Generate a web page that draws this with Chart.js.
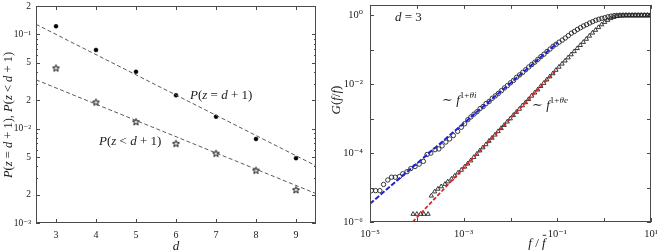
<!DOCTYPE html>
<html><head><meta charset="utf-8">
<script src="https://cdn.jsdelivr.net/npm/chart.js@4"></script>
<style>
html,body{margin:0;padding:0;background:#fff;overflow:hidden;width:657px;height:251px;}
canvas{position:absolute;top:0;}
#c1{left:0}
#c2{left:330px}
</style></head><body>
<canvas id="c1" width="330" height="251"></canvas>
<canvas id="c2" width="327" height="251"></canvas>
<script>
// ---------- Left panel data ----------
const dVals = [3, 4, 5, 6, 7, 8, 9];
const pEqual = [0.122, 0.0684, 0.0401, 0.0226, 0.0134, 0.00778, 0.00487];
const pLess  = [0.0442, 0.0192, 0.0119, 0.0070, 0.0055, 0.00364, 0.00226];
const fitD = [2.5, 9.5];
const fitEqual = [0.128, 0.00404];
const fitLess  = [0.033, 0.00205];
const leftXTicks = [3, 4, 5, 6, 7, 8, 9];
const leftYTicks = [0.001, 0.002, 0.005, 0.01, 0.02, 0.05, 0.1, 0.2];
const leftYLabels = ['10⁻³', '2', '5', '10⁻²', '2', '5', '10⁻¹', '2'];

// ---------- Right panel data (log10 of f/f̄ and G) ----------
const circLogF = [-4.97,-4.88,-4.79,-4.71,-4.62,-4.54,-4.46,-4.37,-4.30,-4.21,-4.13,-4.04,-3.95,-3.86,-3.78,-3.70,-3.61,-3.53,-3.46,-3.38,-3.30,-3.22,-3.13,-3.05,-2.98,
 -2.91,-2.845,-2.78,-2.715,-2.65,-2.585,-2.52,-2.455,-2.39,-2.325,-2.26,-2.195,-2.13,-2.065,-2.0,-1.935,-1.87,-1.805,-1.74,-1.675,-1.61,-1.545,-1.48,-1.415,-1.35,-1.285,-1.22,-1.155,-1.09,
 -1.025,-0.96,-0.895,-0.83,-0.765,-0.70,-0.635,-0.57,-0.505,-0.44,-0.375,-0.31,-0.245,-0.18,-0.115,-0.05,0.015,0.08,0.145,0.21,0.275,0.34,0.405,0.47,0.535,0.60,0.665,0.73,0.795,0.86,0.925,0.99];
const circLogG = [-5.09,-5.09,-5.09,-4.91,-4.78,-4.70,-4.70,-4.68,-4.60,-4.54,-4.45,-4.39,-4.32,-4.24,-4.04,-4.00,-3.90,-3.88,-3.79,-3.68,-3.59,-3.49,-3.37,-3.25,-3.15,
 -3.03,-2.95,-2.87,-2.80,-2.71,-2.65,-2.56,-2.50,-2.41,-2.34,-2.27,-2.19,-2.11,-2.04,-1.96,-1.89,-1.80,-1.73,-1.66,-1.58,-1.50,-1.43,-1.36,-1.28,-1.20,-1.13,-1.05,-0.98,-0.90,
 -0.84,-0.78,-0.72,-0.66,-0.59,-0.52,-0.47,-0.41,-0.36,-0.31,-0.27,-0.225,-0.185,-0.145,-0.115,-0.09,-0.07,-0.045,-0.025,-0.012,-0.004,0,0,0,0,0,0,0,0,0,0,0];
const triLogF = [-4.08,-4.00,-3.92,-3.85,-3.76,-3.69,-3.62,-3.55,-3.48,-3.40,-3.34,-3.26,-3.19,-3.12,-3.05,-2.98,
 -2.915,-2.85,-2.785,-2.72,-2.655,-2.59,-2.525,-2.46,-2.395,-2.33,-2.265,-2.20,-2.135,-2.07,-2.005,-1.94,-1.875,-1.81,-1.745,-1.68,-1.615,-1.55,-1.485,-1.42,-1.355,-1.29,-1.225,-1.16,-1.095,-1.03,
 -0.965,-0.90,-0.835,-0.77,-0.705,-0.64,-0.575,-0.51,-0.445,-0.38,-0.315,-0.25,-0.185,-0.12,-0.055,0.01,0.075,0.14,0.205,0.27,0.335,0.40,0.465,0.53,0.595,0.66,0.725,0.79,0.855,0.92,0.985];
const triLogG = [-5.77,-5.77,-5.77,-5.77,-5.77,-5.24,-5.12,-5.04,-4.97,-4.90,-4.83,-4.75,-4.66,-4.57,-4.49,-4.40,
 -4.31,-4.22,-4.12,-4.03,-3.93,-3.84,-3.75,-3.65,-3.56,-3.47,-3.37,-3.28,-3.19,-3.09,-3.00,-2.90,-2.81,-2.72,-2.62,-2.53,-2.44,-2.34,-2.25,-2.16,-2.06,-1.97,-1.87,-1.78,-1.69,-1.59,
 -1.50,-1.41,-1.32,-1.23,-1.14,-1.05,-0.96,-0.87,-0.78,-0.69,-0.60,-0.51,-0.43,-0.35,-0.27,-0.20,-0.14,-0.09,-0.055,-0.03,-0.012,-0.004,0,0,0,0,0,0,0,0,0];
const blueFitF = [1e-5, 0.1];
const blueFitG = [3.39e-6, 0.158];
const redFitF = [8.13e-5, 0.1];
const redFitG = [1e-6, 0.0275];
const rightXTicks = [1e-5, 1e-4, 1e-3, 1e-2, 1e-1, 1, 10];
const rightXLabels = {'-5':'10⁻⁵', '-3':'10⁻³', '-1':'10⁻¹', '1':'10¹'};
const rightYTicks = [1e-6, 1e-5, 1e-4, 1e-3, 1e-2, 1e-1, 1];
const rightYLabels = {'-6':'10⁻⁶', '-4':'10⁻⁴', '-2':'10⁻²', '0':'10⁰'};

// ---------- helpers ----------
const SERIF = '"Liberation Serif", "DejaVu Serif", serif';
const INK = '#1a1a1a';
const FRAME = '#4a4a4a';

function drawRich(ctx, segs, x, y, size, align) {
  const items = segs.map(([t, st]) => {
    const sup = st.includes('s');
    const it = st.includes('i');
    const sz = sup ? size * 0.7 : size;
    const font = (it ? 'italic ' : '') + sz + 'px ' + SERIF;
    ctx.font = font;
    return {t, font, w: ctx.measureText(t).width, dy: sup ? -size * 0.45 : 0, bar: st.includes('b'), sz};
  });
  const total = items.reduce((a, b) => a + b.w, 0);
  let cx = align === 'center' ? x - total / 2 : (align === 'right' ? x - total : x);
  ctx.fillStyle = INK; ctx.textBaseline = 'alphabetic'; ctx.textAlign = 'left';
  for (const it of items) {
    ctx.font = it.font;
    ctx.fillText(it.t, cx, y + it.dy);
    if (it.bar) {
      ctx.strokeStyle = INK; ctx.lineWidth = 0.9;
      ctx.beginPath();
      ctx.moveTo(cx + it.w * 0.2, y - it.sz * 0.9);
      ctx.lineTo(cx + it.w * 1.15, y - it.sz * 0.9);
      ctx.stroke();
    }
    cx += it.w;
  }
}

function makeStar(r) {
  const c = document.createElement('canvas');
  const s = Math.ceil(r * 2 + 3);
  c.width = c.height = s;
  const g = c.getContext('2d');
  g.strokeStyle = '#000'; g.lineWidth = 1; g.lineJoin = 'miter'; g.beginPath();
  for (let k = 0; k < 10; k++) {
    const ang = -Math.PI / 2 + k * Math.PI / 5;
    const rr = k % 2 ? r * 0.4 : r;
    g.lineTo(s / 2 + rr * Math.cos(ang), s / 2 + 0.5 + rr * Math.sin(ang));
  }
  g.closePath(); g.stroke();
  return c;
}

function frameAndTicks(chart, xMarks, yMajor, yMinor, majLen, minLen) {
  const {ctx, chartArea: a, scales: {x, y}} = chart;
  ctx.save();
  ctx.strokeStyle = FRAME; ctx.lineWidth = 1;
  ctx.beginPath();
  xMarks.forEach(v => {
    const px = Math.round(x.getPixelForValue(v)) + 0.5;
    ctx.moveTo(px, a.bottom); ctx.lineTo(px, a.bottom - majLen);
    ctx.moveTo(px, a.top); ctx.lineTo(px, a.top + majLen);
  });
  const yt = (v, len) => {
    const py = Math.round(y.getPixelForValue(v)) + 0.5;
    ctx.moveTo(a.left, py); ctx.lineTo(a.left + len, py);
    ctx.moveTo(a.right, py); ctx.lineTo(a.right - len, py);
  };
  yMajor.forEach(v => yt(v, majLen));
  yMinor.forEach(v => yt(v, minLen));
  ctx.stroke();
  ctx.strokeRect(Math.round(a.left) + 0.5, Math.round(a.top) + 0.5, Math.round(a.width) - 1, Math.round(a.height) - 1);
  ctx.restore();
}

const pts = (xs, ys) => xs.map((v, i) => ({x: v, y: ys[i]}));
const logPts = (xs, ys) => xs.map((v, i) => ({x: Math.pow(10, v), y: Math.pow(10, ys[i])}));

const leftMinor = [];
[1e-3, 1e-2, 1e-1].forEach(dec => [3, 4, 6, 7, 8, 9].forEach(m => { if (m * dec < 0.2) leftMinor.push(m * dec); }));

// ---------- Left chart ----------
new Chart(document.getElementById('c1'), {
  type: 'scatter',
  data: {
    datasets: [
      {data: pts(fitD, fitEqual), showLine: true, pointRadius: 0, borderColor: '#5a5a5a', borderWidth: 1, borderDash: [4, 2.5], order: 0},
      {data: pts(fitD, fitLess), showLine: true, pointRadius: 0, borderColor: '#5a5a5a', borderWidth: 1, borderDash: [4, 2.5], order: 0},
      {data: pts(dVals, pEqual), pointStyle: 'circle', pointRadius: 2, backgroundColor: '#000', borderColor: '#000', borderWidth: 0.5, order: 1},
      {data: pts(dVals, pLess), pointStyle: makeStar(3.6), pointRadius: 4, order: 1}
    ]
  },
  options: {
    responsive: false, animation: false, events: [],
    layout: {padding: {top: 6, right: 14, left: 0, bottom: 0}},
    plugins: {legend: {display: false}, tooltip: {enabled: false}},
    scales: {
      x: {
        type: 'linear', min: 2.5, max: 9.5,
        grid: {display: false, drawTicks: false}, border: {display: false},
        afterBuildTicks: s => { s.ticks = leftXTicks.map(v => ({value: v})); },
        afterFit: s => { s.height = 28; s.paddingLeft = 0; s.paddingRight = 0; },
        ticks: {autoSkip: false, maxRotation: 0, padding: 6, color: INK, font: {family: SERIF, size: 10}, callback: v => String(v)}
      },
      y: {
        type: 'logarithmic', min: 0.001, max: 0.2,
        grid: {display: false, drawTicks: false}, border: {display: false},
        afterBuildTicks: s => { s.ticks = leftYTicks.map(v => ({value: v})); },
        afterFit: s => { s.width = 36; s.paddingTop = 0; s.paddingBottom = 0; },
        ticks: {autoSkip: false, padding: 5, color: INK, font: {family: SERIF, size: 9.5}, callback: (v, i) => leftYLabels[i]}
      }
    }
  },
  plugins: [{
    id: 'leftDeco',
    afterDraw(chart) {
      frameAndTicks(chart, leftXTicks, leftYTicks, leftMinor, 4, 2);
      const ctx = chart.ctx;
      drawRich(ctx, [['P','i'],['(','r'],['z','i'],[' = ','r'],['d','i'],[' + 1)','r']], 190, 99, 13, 'left');
      drawRich(ctx, [['P','i'],['(','r'],['z','i'],[' < ','r'],['d','i'],[' + 1)','r']], 99, 145, 13, 'left');
      drawRich(ctx, [['d','i']], 176, 250, 13, 'center');
      ctx.save();
      ctx.translate(12, 115); ctx.rotate(-Math.PI / 2);
      drawRich(ctx, [['P','i'],['(','r'],['z','i'],[' = ','r'],['d','i'],[' + 1), ','r'],['P','i'],['(','r'],['z','i'],[' < ','r'],['d','i'],[' + 1)','r']], 0, 0, 12.5, 'center');
      ctx.restore();
    }
  }]
});

// ---------- Right chart ----------
new Chart(document.getElementById('c2'), {
  type: 'scatter',
  data: {
    datasets: [
      {data: pts(blueFitF, blueFitG), showLine: true, pointRadius: 0, borderColor: '#2020d8', borderWidth: 2, borderDash: [5, 2], order: 0},
      {data: pts(redFitF, redFitG), showLine: true, pointRadius: 0, borderColor: '#d82020', borderWidth: 1.7, borderDash: [4, 2], order: 0},
      {data: logPts(circLogF, circLogG), pointStyle: 'circle', pointRadius: 2.2, backgroundColor: 'rgba(0,0,0,0)', borderColor: '#222', borderWidth: 0.9, order: 1},
      {data: logPts(triLogF, triLogG), pointStyle: 'triangle', pointRadius: 2.5, backgroundColor: 'rgba(0,0,0,0)', borderColor: '#222', borderWidth: 0.9, order: 1}
    ]
  },
  options: {
    responsive: false, animation: false, events: [],
    layout: {padding: {top: 4, right: 6, left: 0, bottom: 0}},
    plugins: {legend: {display: false}, tooltip: {enabled: false}},
    scales: {
      x: {
        type: 'logarithmic', min: 1e-5, max: 10,
        grid: {display: false, drawTicks: false}, border: {display: false},
        afterBuildTicks: s => { s.ticks = rightXTicks.map(v => ({value: v})); },
        afterFit: s => { s.height = 29; s.paddingLeft = 0; s.paddingRight = 0; },
        ticks: {autoSkip: false, maxRotation: 0, padding: 6, color: INK, font: {family: SERIF, size: 10.5},
          callback: v => rightXLabels[String(Math.round(Math.log10(v)))] || ''}
      },
      y: {
        type: 'logarithmic', min: 1e-6, max: 2,
        grid: {display: false, drawTicks: false}, border: {display: false},
        afterBuildTicks: s => { s.ticks = rightYTicks.map(v => ({value: v})); },
        afterFit: s => { s.width = 40; s.paddingTop = 0; s.paddingBottom = 0; },
        ticks: {autoSkip: false, padding: 7, color: INK, font: {family: SERIF, size: 10.5},
          callback: v => rightYLabels[String(Math.round(Math.log10(v)))] || ''}
      }
    }
  },
  plugins: [{
    id: 'rightDeco',
    afterDraw(chart) {
      frameAndTicks(chart, rightXTicks, rightYTicks, [], 4, 2);
      const ctx = chart.ctx;
      drawRich(ctx, [['d','i'],[' = 3','r']], 65, 21, 13, 'left');
      drawRich(ctx, [['∼ ','r'],['f','i'],['1+','s'],['θ','si'],['i','si']], 112, 104, 13, 'left');
      drawRich(ctx, [['∼ ','r'],['f','i'],['1+','s'],['θ','si'],['e','si']], 202, 109, 13, 'left');
      drawRich(ctx, [['f','i'],[' / ','r'],['f','ib']], 207, 247, 13, 'center');
      ctx.save();
      ctx.translate(10, 100); ctx.rotate(-Math.PI / 2);
      drawRich(ctx, [['G','i'],['(','r'],['f','i'],['/','r'],['f','ib'],[')','r']], 0, 0, 13, 'center');
      ctx.restore();
    }
  }]
});
</script>
</body></html>
